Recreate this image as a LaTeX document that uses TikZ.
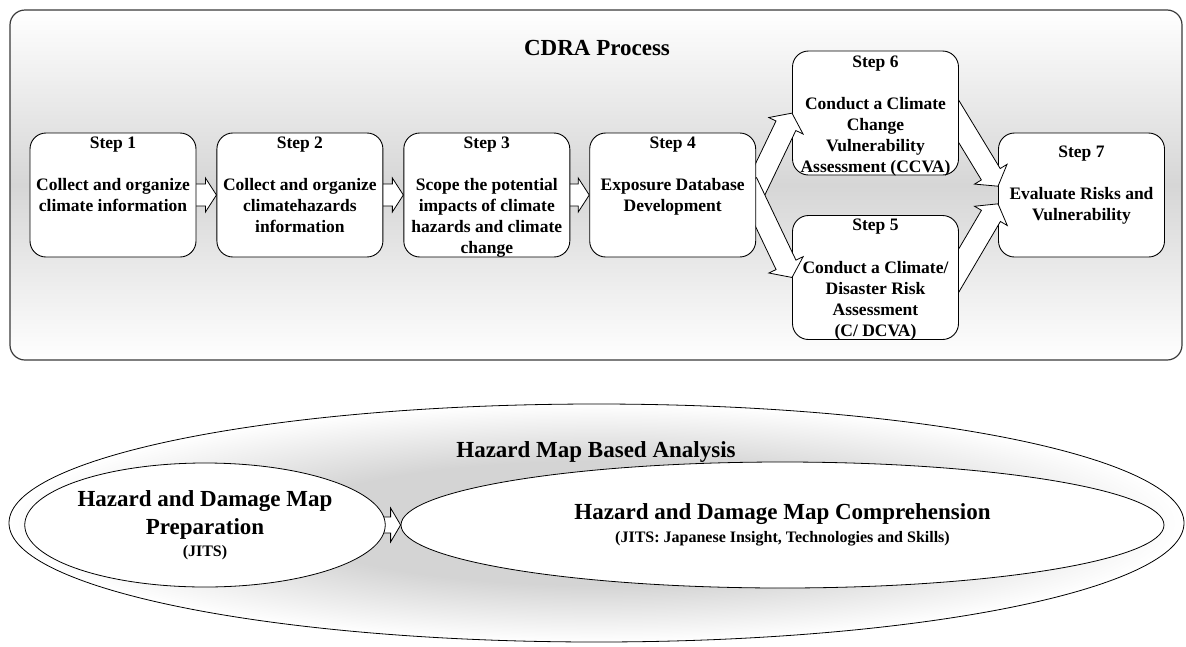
\documentclass[tikz,border=0pt]{standalone}
\usepackage{fontspec}
\setmainfont{Liberation Serif}
\usetikzlibrary{
  calc,
  positioning,
  shapes.geometric
}
\definecolor{ink}{HTML}{000000}
\definecolor{frame}{HTML}{3A3A3A}
\definecolor{haze}{HTML}{D6D6D6}
\definecolor{hazelight}{HTML}{D4D4D4}
\pgfdeclarelayer{bg}
\pgfdeclarelayer{farbox}
\pgfdeclarelayer{farlinks}
\pgfdeclarelayer{midbox}
\pgfdeclarelayer{links}
\pgfsetlayers{bg,farbox,farlinks,midbox,links,main}
\pgfdeclareradialshading{ringhaze}{\pgfpointorigin}{%
  color(0bp)=(hazelight); color(13bp)=(hazelight); color(25bp)=(white); color(50bp)=(white)}
\newcommand{\stepfont}{\fontsize{17.5}{21}\selectfont\bfseries}
\newcommand{\mapfont}{\fontsize{23}{28}\selectfont\bfseries}
\newcommand{\notefont}{\fontsize{16}{19}\selectfont\bfseries}
\def\fatsplit#1,#2,#3\relax{\def\fatsh{#1}\def\fathw{#2}\def\fathl{#3}}
\newcommand{\fatarrow}[3][11,17,11]{%
  \fatsplit#1\relax
  \path let \p1=($(#2)!-22pt!(#3)$), \p2=($(#3)-(\p1)$) in
    \pgfextra{%
      \pgfmathsetmacro\fatang{atan2(\y2,\x2)}%
      \pgfmathsetmacro\fatlen{veclen(\x2,\y2)}%
      \xdef\fatang{\fatang}\xdef\fatlen{\fatlen}%
      \xdef\fatx{\x1}\xdef\faty{\y1}};
  \draw[blockarrow, shift={(\fatx,\faty)}, rotate=\fatang]
    (0,-\fatsh) -- ({\fatlen-\fathl},-\fatsh) -- ({\fatlen-\fathl},-\fathw)
    -- (\fatlen,0) -- ({\fatlen-\fathl},\fathw) -- ({\fatlen-\fathl},\fatsh)
    -- (0,\fatsh) -- cycle;
}
\tikzset{
  panel/.style={
    draw=frame,
    line width=1.2pt,
    rounded corners=15pt,
    top color=white,
    bottom color=white,
    middle color=haze,
    minimum width=1172pt,
    minimum height=350pt
  },
  stepbox/.style={
    draw=ink,
    line width=0.9pt,
    fill=white,
    rounded corners=16pt,
    minimum width=166pt,
    minimum height=124pt
  },
  steptext/.style={
    font=\stepfont,
    align=center,
    inner sep=0pt,
    anchor=north
  },
  headline/.style={
    font=\mapfont,
    inner sep=0pt
  },
  blockarrow/.style={
    draw=ink,
    line width=0.8pt,
    fill=white,
    line join=miter
  },
  outerring/.style={
    ellipse,
    draw=ink,
    line width=0.8pt,
    shade,
    shading=ringhaze,
    minimum width=1175pt,
    minimum height=238pt
  },
  mapnode/.style={
    ellipse,
    draw=ink,
    line width=0.8pt,
    fill=white,
    align=center,
    inner sep=0pt,
    font=\mapfont
  }
}
\begin{document}
\begin{tikzpicture}[x=1pt, y=-1pt]
  \useasboundingbox (0,0) rectangle (1186,646);
  \begin{pgfonlayer}{bg}
    \node[panel] (cdra) at (596,185) {};
    \node[outerring] (ring) at (596.5,523) {};
  \end{pgfonlayer}
  \node[headline] (cdratitle) at (597,47.5) {CDRA Process};
  \node[stepbox] (s1) at (113,195) {};
  \node[stepbox, right=20pt of s1] (s2) {};
  \node[stepbox, right=20pt of s2] (s3) {};
  \node[stepbox, right=19pt of s3] (s4) {};
  \begin{pgfonlayer}{midbox}
    \node[stepbox] (s6) at (875.5,113) {};
    \node[stepbox] (s5) at (875.5,277.5) {};
  \end{pgfonlayer}
  \begin{pgfonlayer}{farbox}
    \node[stepbox] (s7) at (1081.5,195) {};
  \end{pgfonlayer}
  \node[steptext] (t1) at ([yshift=-4pt]s1.north) {Step 1\\[21pt]Collect and organize\\climate information};
  \node[steptext] (t2) at ([yshift=-4pt]s2.north) {Step 2\\[21pt]Collect and organize\\climatehazards\\information};
  \node[steptext] (t3) at ([yshift=-4pt]s3.north) {Step 3\\[21pt]Scope the potential\\impacts of climate\\hazards and climate\\change};
  \node[steptext] (t4) at ([yshift=-4pt]s4.north) {Step 4\\[21pt]Exposure Database\\Development};
  \node[steptext] (t6) at ([yshift=-5pt]s6.north) {Step 6\\[21pt]Conduct a Climate\\Change\\Vulnerability\\Assessment (CCVA)};
  \node[steptext] (t5) at ([yshift=-4pt]s5.north) {Step 5\\[22pt]Conduct a Climate/\\Disaster Risk\\Assessment\\(C/ DCVA)};
  \node[steptext] (t7) at ([yshift=-13pt]s7.north) {Step 7\\[21pt]Evaluate Risks and\\Vulnerability};
  \node[headline, anchor=base] (hmtitle) at (596,457) {Hazard Map Based Analysis};
  \node[mapnode, minimum width=350pt, minimum height=124pt] (prep) at (205,525)
    {Hazard and Damage Map\\Preparation\\[-6pt]{\notefont (JITS)}};
  \node[mapnode, minimum width=763pt, minimum height=126pt] (compr) at (782.5,525)
    {Hazard and Damage Map Comprehension\\[-5pt]{\notefont (JITS: Japanese Insight, Technologies and Skills)}};
  \begin{pgfonlayer}{links}
    \fatarrow{s1.east}{s2.west}
    \fatarrow{s2.east}{s3.west}
    \fatarrow{s3.east}{s4.west}
    \fatarrow[11,19,14]{s4.5}{s6.west}
    \fatarrow[11,19,14]{s4.-5}{s5.west}
    \fatarrow[8,17,10]{prep.east}{compr.west}
  \end{pgfonlayer}
  \begin{pgfonlayer}{farlinks}
    \fatarrow[11,19,14]{s6.-6}{s7.174}
    \fatarrow[11,19,14]{s5.5}{s7.186}
  \end{pgfonlayer}
\end{tikzpicture}
\end{document}
